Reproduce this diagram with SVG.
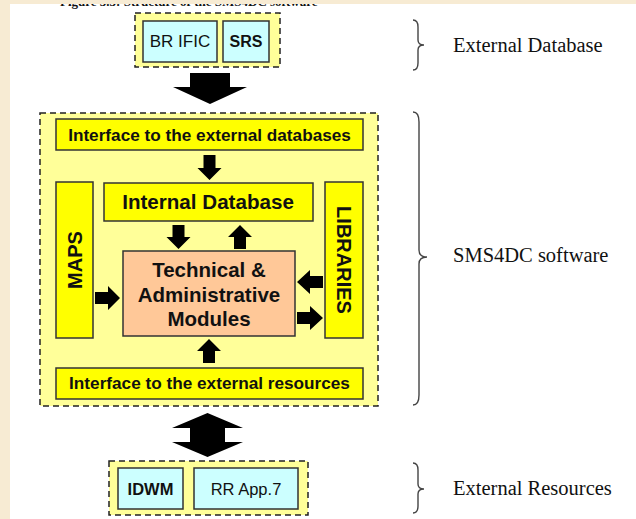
<svg xmlns="http://www.w3.org/2000/svg" width="636" height="519" viewBox="0 0 636 519">
<style>
.page{fill:#ffffff}
.grp{fill:#ffff99;stroke:#222;stroke-width:1.5;stroke-dasharray:6 4}
.ybox{fill:#ffff00;stroke:#333;stroke-width:1.5}
.cbox{fill:#ccffff;stroke:#333;stroke-width:1.5}
.obox{fill:#ffc898;stroke:#333;stroke-width:1.5}
.b{font-family:"Liberation Sans",Arial,sans-serif;font-weight:bold;fill:#111;text-anchor:middle}
.r{font-family:"Liberation Sans",Arial,sans-serif;fill:#111;text-anchor:middle}
.t{font-family:"Liberation Serif","Times New Roman",serif;font-size:20.5px;fill:#111}
.brace{fill:none;stroke:#444;stroke-width:1.4}
.arr{fill:#000}
</style>
<defs>
<clipPath id="pageclip"><rect x="10" y="4" width="626" height="515"/></clipPath>
</defs>
<rect x="0" y="0" width="636" height="519" fill="#f7ebd3"/>
<rect class="page" x="10" y="4" width="626" height="515"/>
<g clip-path="url(#pageclip)">
<text x="60" y="6" font-family="'Liberation Serif','Times New Roman',serif" font-weight="bold" font-size="13" fill="#111">Figure 3.3: Structure of the SMS4DC software</text>
</g>

<g id="external-database">
<rect class="grp" x="135" y="13" width="145" height="54"/>
<g id="br-ific"><rect class="cbox" x="143" y="21" width="74" height="41"/><text class="r" x="180" y="47" font-size="17">BR IFIC</text></g>
<g id="srs"><rect class="cbox" x="223" y="21" width="46" height="41"/><text class="b" x="246" y="47" font-size="16">SRS</text></g>
</g>

<g id="sms4dc">
<rect class="grp" x="40" y="113" width="338" height="293"/>
<g id="iface-db"><rect class="ybox" x="56" y="119" width="307" height="31"/><text class="b" x="209.5" y="141" font-size="17.2">Interface to the external databases</text></g>
<g id="internal-db"><rect class="ybox" x="104" y="183" width="209" height="38"/><text class="b" x="208" y="209" font-size="20.6">Internal Database</text></g>
<g id="maps"><rect class="ybox" x="56" y="182" width="37" height="156"/><text class="b" font-size="20" transform="translate(81.5,260) rotate(-90)" x="0" y="0">MAPS</text></g>
<g id="libraries"><rect class="ybox" x="325" y="182" width="38" height="156"/><text class="b" font-size="20" transform="translate(337,260) rotate(90)" x="0" y="0">LIBRARIES</text></g>
<g id="modules"><rect class="obox" x="123" y="251" width="172" height="85"/>
<text class="b" x="209" y="277" font-size="20.5">Technical &amp;</text>
<text class="b" x="209" y="302" font-size="20.5">Administrative</text>
<text class="b" x="209" y="326" font-size="20.5">Modules</text></g>
<g id="iface-res"><rect class="ybox" x="56" y="368" width="307" height="31"/><text class="b" x="209.5" y="389" font-size="17.2">Interface to the external resources</text></g>
</g>

<g id="external-resources">
<rect class="grp" x="109" y="461" width="199" height="54"/>
<g id="idwm"><rect class="cbox" x="118" y="468" width="65" height="41"/><text class="b" x="150.5" y="495" font-size="16.5">IDWM</text></g>
<g id="rr-app7"><rect class="cbox" x="194" y="468" width="104" height="41"/><text class="r" x="246" y="495" font-size="16.5">RR App.7</text></g>
</g>

<g id="connectors">
<polygon class="arr" points="190,73 230,73 230,87 247,87 210,104 173,87 190,87"/>
<polygon class="arr" points="203.5,155 215.5,155 215.5,168 221.5,168 209.5,180 197.5,168 203.5,168"/>
<polygon class="arr" points="172.5,225 184.5,225 184.5,237 190.5,237 178.5,249 166.5,237 172.5,237"/>
<polygon class="arr" points="234,249 246,249 246,237 252,237 240,225 228,237 234,237"/>
<polygon class="arr" points="95,292 108,292 108,286 120,298 108,310 108,304 95,304"/>
<polygon class="arr" points="323,276 310,276 310,270 297,282 310,294 310,288 323,288"/>
<polygon class="arr" points="297,312 310,312 310,306 323,318 310,330 310,324 297,324"/>
<polygon class="arr" points="203,363 215,363 215,351 221,351 209,339 197,351 203,351"/>
<polygon class="arr" points="207.5,413 243,428 225,428 225,442 243,442 207.5,457 172,442 190,442 190,428 172,428"/>
</g>

<g id="labels">
<path class="brace" d="M413,20 Q418,20 418,27 L418,40 Q418,45 424,45 Q418,45 418,50 L418,63 Q418,70 413,70"/>
<text class="t" x="453" y="52">External Database</text>
<path class="brace" d="M413,112 Q419,112 419,122 L419,250 Q419,257 427,257 Q419,257 419,264 L419,395 Q419,405 413,405"/>
<text class="t" x="453" y="262">SMS4DC software</text>
<path class="brace" d="M413,463 Q418,463 418,470 L418,484 Q418,489 424,489 Q418,489 418,494 L418,506 Q418,513 413,513"/>
<text class="t" x="453" y="495">External Resources</text>
</g>
</svg>
